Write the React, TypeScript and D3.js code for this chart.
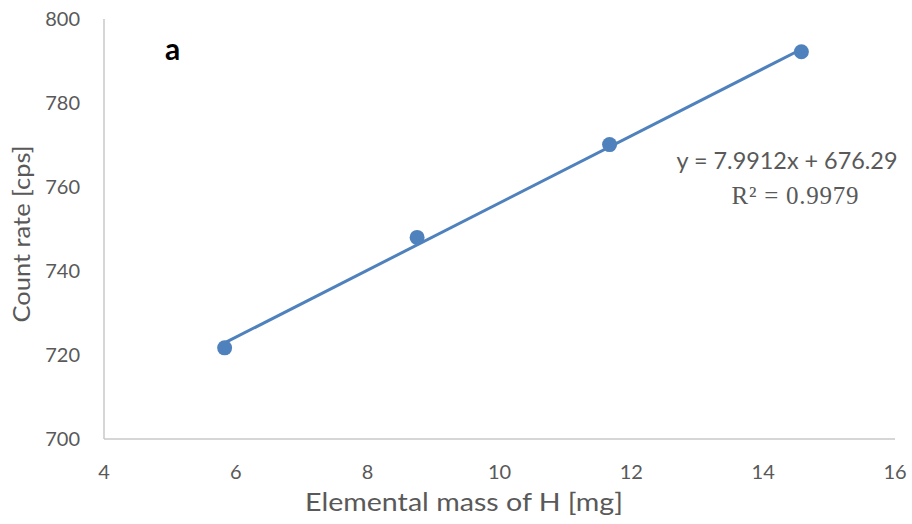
import React, { useEffect, useRef } from 'react';
import * as d3 from 'd3';

const massH = [5.83, 8.75, 11.67, 14.58];
const countRate = [721.7, 748.0, 770.1, 792.2];
const xTicks = [4, 6, 8, 10, 12, 14, 16];
const yTicks = [700, 720, 740, 760, 780, 800];
const slope = 7.9912;
const intercept = 676.29;

const W = 912;
const H = 524;

const App = () => {
    const ref = useRef<SVGSVGElement>(null);

    useEffect(() => {
        const margin = { top: 19, right: 17, bottom: 85, left: 104 };
        const svg = d3.select(ref.current);
        svg.selectAll('*').remove();

        const font = 'Lato, "Open Sans", sans-serif';
        const textColor = '#595959';
        const blue = '#4f81bd';

        const x = d3.scaleLinear().domain([4, 16]).range([margin.left, W - margin.right]);
        const y = d3.scaleLinear().domain([700, 800]).range([H - margin.bottom, margin.top]);

        // axes lines
        svg.append('line')
            .attr('x1', x(4)).attr('x2', x(16))
            .attr('y1', y(700)).attr('y2', y(700))
            .attr('stroke', '#c8c8c8').attr('stroke-width', 1.5);
        svg.append('line')
            .attr('x1', x(4)).attr('x2', x(4))
            .attr('y1', y(700)).attr('y2', y(800))
            .attr('stroke', '#c8c8c8').attr('stroke-width', 1.5);

        // tick labels
        svg.selectAll('.yt')
            .data(yTicks)
            .join('text')
            .attr('x', margin.left - 24)
            .attr('y', (d) => y(d))
            .attr('dy', '0.36em')
            .attr('text-anchor', 'end')
            .attr('font-family', font)
            .attr('font-size', 20)
            .attr('fill', textColor)
            .text((d) => d);

        svg.selectAll('.xt')
            .data(xTicks)
            .join('text')
            .attr('x', (d) => x(d))
            .attr('y', y(700) + 40)
            .attr('text-anchor', 'middle')
            .attr('font-family', font)
            .attr('font-size', 20)
            .attr('fill', textColor)
            .text((d) => d);

        // axis titles
        svg.append('text')
            .attr('x', 464)
            .attr('y', 511)
            .attr('text-anchor', 'middle')
            .attr('font-family', font)
            .attr('font-size', 25)
            .attr('textLength', 318)
            .attr('lengthAdjust', 'spacingAndGlyphs')
            .attr('fill', textColor)
            .text('Elemental mass of H [mg]');

        svg.append('text')
            .attr('transform', `translate(30,234) rotate(-90)`)
            .attr('text-anchor', 'middle')
            .attr('font-family', font)
            .attr('font-size', 24)
            .attr('textLength', 177)
            .attr('lengthAdjust', 'spacingAndGlyphs')
            .attr('fill', textColor)
            .text('Count rate [cps]');

        // trendline
        const x0 = d3.min(massH) as number;
        const x1 = d3.max(massH) as number;
        svg.append('line')
            .attr('x1', x(x0)).attr('y1', y(slope * x0 + intercept))
            .attr('x2', x(x1)).attr('y2', y(slope * x1 + intercept))
            .attr('stroke', blue).attr('stroke-width', 3);

        // points
        svg.selectAll('.pt')
            .data(massH)
            .join('circle')
            .attr('cx', (d) => x(d))
            .attr('cy', (d, i) => y(countRate[i]))
            .attr('r', 7.5)
            .attr('fill', blue);

        // equation
        svg.append('text')
            .attr('x', 787)
            .attr('y', 169)
            .attr('text-anchor', 'middle')
            .attr('font-family', font)
            .attr('font-size', 23)
            .attr('textLength', 221)
            .attr('lengthAdjust', 'spacingAndGlyphs')
            .attr('fill', textColor)
            .text(`y = ${slope}x + ${intercept}`);

        svg.append('text')
            .attr('x', 795)
            .attr('y', 204)
            .attr('text-anchor', 'middle')
            .attr('font-family', '"Liberation Serif", "DejaVu Serif", serif')
            .attr('font-size', 25)
            .attr('textLength', 127)
            .attr('lengthAdjust', 'spacing')
            .attr('fill', textColor)
            .text('R² = 0.9979');

        // panel label
        svg.append('text')
            .attr('x', 165)
            .attr('y', 60)
            .attr('font-family', font)
            .attr('font-weight', 'bold')
            .attr('font-size', 30)
            .attr('fill', '#000')
            .text('a');
    }, []);

    return (
        <div style={{ position: 'absolute', left: 0, top: 0 }}>
            <svg ref={ref} width={W} height={H}></svg>
        </div>
    );
};

export default App;
